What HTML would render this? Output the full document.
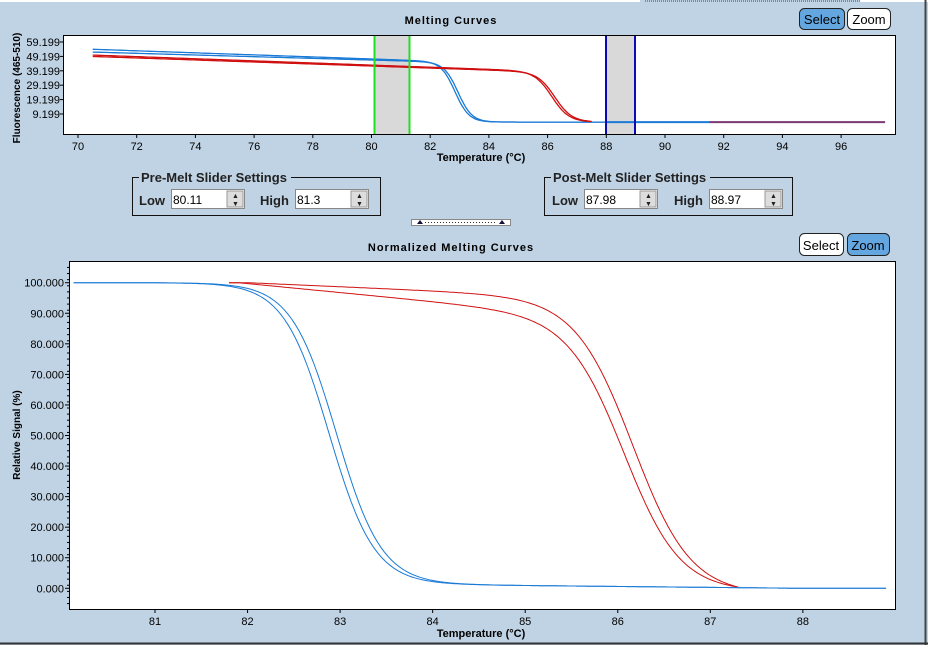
<!DOCTYPE html>
<html><head><meta charset="utf-8">
<style>
html,body{margin:0;padding:0;}
body{width:928px;height:645px;background:#c0d3e4;position:relative;overflow:hidden;font-family:"Liberation Sans",sans-serif;}
svg{position:absolute;left:0;top:0;}
</style></head>
<body>
<svg id="s" width="928" height="645" xmlns="http://www.w3.org/2000/svg" font-family="Liberation Sans, sans-serif">
<line x1="0" y1="1" x2="640" y2="1" stroke="#fff" stroke-width="2"/>
<line x1="645" y1="1" x2="1270" y2="1" stroke="#888" stroke-width="2" stroke-dasharray="1,1"/>
<line x1="860" y1="1" x2="928" y2="1" stroke="#fff" stroke-width="2"/>
<line x1="925.5" y1="0" x2="925.5" y2="645" stroke="#444" stroke-width="2"/>
<line x1="0" y1="643.5" x2="928" y2="643.5" stroke="#333" stroke-width="2"/>

<text x="451" y="24" font-size="11" font-weight="bold" text-anchor="middle" letter-spacing="1">Melting Curves</text>
<rect x="799.5" y="8.5" width="45" height="21" rx="5" fill="#64a6e0" stroke="#222"/>
<text x="822" y="24" font-size="13" text-anchor="middle">Select</text>
<rect x="847.5" y="8.5" width="43" height="21" rx="5" fill="#fff" stroke="#222"/>
<text x="869" y="24" font-size="13" text-anchor="middle">Zoom</text>

<rect x="63.5" y="35.5" width="832" height="99" fill="#fff" stroke="#000"/>
<rect x="374.5" y="36" width="35" height="98" fill="#d9d9d9"/>
<rect x="606" y="36" width="29" height="98" fill="#d9d9d9"/>
<g id="topcurves"></g>
<line x1="374.5" y1="36" x2="374.5" y2="134" stroke="#1ee01e" stroke-width="2"/>
<line x1="409.5" y1="36" x2="409.5" y2="134" stroke="#1ee01e" stroke-width="2"/>
<line x1="606" y1="36" x2="606" y2="134" stroke="#0a0ab4" stroke-width="2"/>
<line x1="635" y1="36" x2="635" y2="134" stroke="#0a0ab4" stroke-width="2"/>
<g id="topticks" font-size="11"></g>
<text x="481" y="161" font-size="11" font-weight="bold" text-anchor="middle">Temperature (°C)</text>
<text transform="translate(20,88) rotate(-90)" font-size="10" font-weight="bold" text-anchor="middle">Fluorescence (465-510)</text>

<g font-size="13">
<rect x="132.5" y="177.5" width="248" height="38" fill="none" stroke="#111"/>
<rect x="139" y="171" width="152" height="12" fill="#c0d3e4"/>
<text x="141" y="182" font-size="13" font-weight="bold" fill="#222">Pre-Melt Slider Settings</text>
<text x="139" y="205" font-weight="bold" fill="#222">Low</text>
<rect x="171.5" y="189.5" width="73" height="19" fill="#fff" stroke="#888"/>
<text x="173" y="204" font-size="12">80.11</text>
<rect x="227" y="191" width="16" height="16" fill="#ddd" stroke="#999"/>
<text x="260" y="205" font-weight="bold" fill="#222">High</text>
<rect x="295.5" y="189.5" width="73" height="19" fill="#fff" stroke="#888"/>
<text x="297" y="204" font-size="12">81.3</text>
<rect x="351" y="191" width="16" height="16" fill="#ddd" stroke="#999"/>

<rect x="544.5" y="177.5" width="248" height="38" fill="none" stroke="#111"/>
<rect x="551" y="171" width="159" height="12" fill="#c0d3e4"/>
<text x="553" y="182" font-size="13" font-weight="bold" fill="#222">Post-Melt Slider Settings</text>
<text x="552" y="205" font-weight="bold" fill="#222">Low</text>
<rect x="584.5" y="189.5" width="73" height="19" fill="#fff" stroke="#888"/>
<text x="586" y="204" font-size="12">87.98</text>
<rect x="640" y="191" width="16" height="16" fill="#ddd" stroke="#999"/>
<text x="674" y="205" font-weight="bold" fill="#222">High</text>
<rect x="709.5" y="189.5" width="73" height="19" fill="#fff" stroke="#888"/>
<text x="711" y="204" font-size="12">88.97</text>
<rect x="765" y="191" width="16" height="16" fill="#ddd" stroke="#999"/>
<g fill="#222" font-size="7">
<text x="232" y="198">▲</text><text x="232" y="206">▼</text>
<text x="356" y="198">▲</text><text x="356" y="206">▼</text>
<text x="645" y="198">▲</text><text x="645" y="206">▼</text>
<text x="770" y="198">▲</text><text x="770" y="206">▼</text>
</g>
</g>
<rect x="411.5" y="219.5" width="99" height="6" fill="#fff" stroke="#888"/>
<line x1="425" y1="222.5" x2="496" y2="222.5" stroke="#333" stroke-dasharray="1,2"/>
<polygon points="417,224 420,220 423,224" fill="#113"/>
<polygon points="499,224 502,220 505,224" fill="#113"/>

<text x="451" y="251" font-size="11" font-weight="bold" text-anchor="middle" letter-spacing="1">Normalized Melting Curves</text>
<rect x="799.5" y="233.5" width="44" height="22" rx="5" fill="#fff" stroke="#222"/>
<text x="821" y="250" font-size="13" text-anchor="middle">Select</text>
<rect x="847.5" y="233.5" width="42" height="22" rx="5" fill="#64a6e0" stroke="#222"/>
<text x="868" y="250" font-size="13" text-anchor="middle">Zoom</text>
<rect x="69.5" y="261.5" width="826" height="348" fill="#fff" stroke="#000"/>
<g id="botcurves"></g>
<g id="botticks" font-size="11"></g>
<text x="481" y="637" font-size="11" font-weight="bold" text-anchor="middle">Temperature (°C)</text>
<text transform="translate(20,435) rotate(-90)" font-size="10" font-weight="bold" text-anchor="middle">Relative Signal (%)</text>
</svg>
<script>
var NS="http://www.w3.org/2000/svg";
function el(p,tag,a,txt){var e=document.createElementNS(NS,tag);for(var k in a)e.setAttribute(k,a[k]);if(txt!=null)e.textContent=txt;document.getElementById(p).appendChild(e);return e;}
function sig(x,c,k){return 1/(1+Math.exp(k*(x-c)));}
function tx(t){return 78+(t-70)*29.35;}
function ty(v){return 114-(v-9.199)*1.44;}
for(var t=70;t<=96;t+=2){var X=tx(t);el("topticks","line",{x1:X,y1:134,x2:X,y2:138,stroke:"#000"});el("topticks","text",{x:X,y:150,"text-anchor":"middle"},String(t));}
[59.199,49.199,39.199,29.199,19.199,9.199].forEach(function(v){var Y=ty(v);el("topticks","line",{x1:60,y1:Y,x2:63,y2:Y,stroke:"#000"});el("topticks","text",{x:60,y:Y+4,"text-anchor":"end"},v.toFixed(3));});
function path(g,f,a,b,st,sx,sy,col,w){var d="";for(var x=a;x<=b+1e-9;x+=st){d+=(d?"L":"M")+sx(x).toFixed(1)+","+sy(f(x)).toFixed(1);}el(g,"path",{d:d,fill:"none",stroke:col,"stroke-width":w||1});}
var base=3.6;
function rawB(s,e,c){return function(x){var pre=s+(e-s)*(x-70)/12;return base+(pre-base)*sig(x,c,4.2);};}
function rawR(s,e,c){return function(x){var pre=s+(e-s)*(x-70)/15;return base+(pre-base)*sig(x,c,3.4);};}
path("topcurves",rawB(54.5,46,82.85),70.5,88,0.05,tx,ty,"#1a7ad6",1.3);
path("topcurves",rawB(52.5,45.5,82.95),70.5,88,0.05,tx,ty,"#1a7ad6",1.3);
path("topcurves",rawR(50.5,39.5,86.15),70.5,87.5,0.05,tx,ty,"#d01010",1.3);
path("topcurves",rawR(49.5,39,86.25),70.5,87.5,0.05,tx,ty,"#d01010",1.3);
el("topcurves","line",{x1:tx(88),y1:ty(base),x2:tx(91.5),y2:ty(base),stroke:"#1a7ad6","stroke-width":2});
el("topcurves","line",{x1:tx(91.5),y1:ty(base),x2:tx(97.5),y2:ty(base),stroke:"#7a3a72","stroke-width":2});
function bx(t){return 155+(t-81)*92.55;}
function by(v){return 588.3-v*3.056;}
for(var t=81;t<=88;t++){var X=bx(t);el("botticks","line",{x1:X,y1:609,x2:X,y2:613,stroke:"#000"});el("botticks","text",{x:X,y:625,"text-anchor":"middle"},String(t));}
for(var v=0;v<=100;v+=10){var Y=by(v);el("botticks","line",{x1:65,y1:Y,x2:69,y2:Y,stroke:"#000"});el("botticks","text",{x:64,y:Y+4,"text-anchor":"end"},v.toFixed(3));}
for(var v=-5;v<=105;v+=2){var Y=by(v);if(Y>262&&Y<609)el("botticks","line",{x1:67,y1:Y,x2:69,y2:Y,stroke:"#000"});}
function nB(c){return function(x){var bl=Math.max(0,1.2*(88-x)/4);return bl+(100-bl)*sig(x,c,4.1);};}
function nR(s0,slope,c,k){var g=function(x){return (100-Math.max(0,x-s0)*slope)*sig(x,c,k);};var e=g(87.3),a=g(81.8);
 return function(x){return 0.4+(g(x)-e)/(a-e)*99.6;};}
path("botcurves",nR(82,1.3,86.17,3.2),81.8,87.3,0.02,bx,by,"#d01010",1);
path("botcurves",nR(81.9,2.9,86.08,3.3),81.8,87.3,0.02,bx,by,"#d01010",1);
path("botcurves",nB(82.88),80.12,88.9,0.02,bx,by,"#1a7ad6",1);
path("botcurves",nB(82.96),80.12,88.9,0.02,bx,by,"#1a7ad6",1);
</script>
</body></html>
